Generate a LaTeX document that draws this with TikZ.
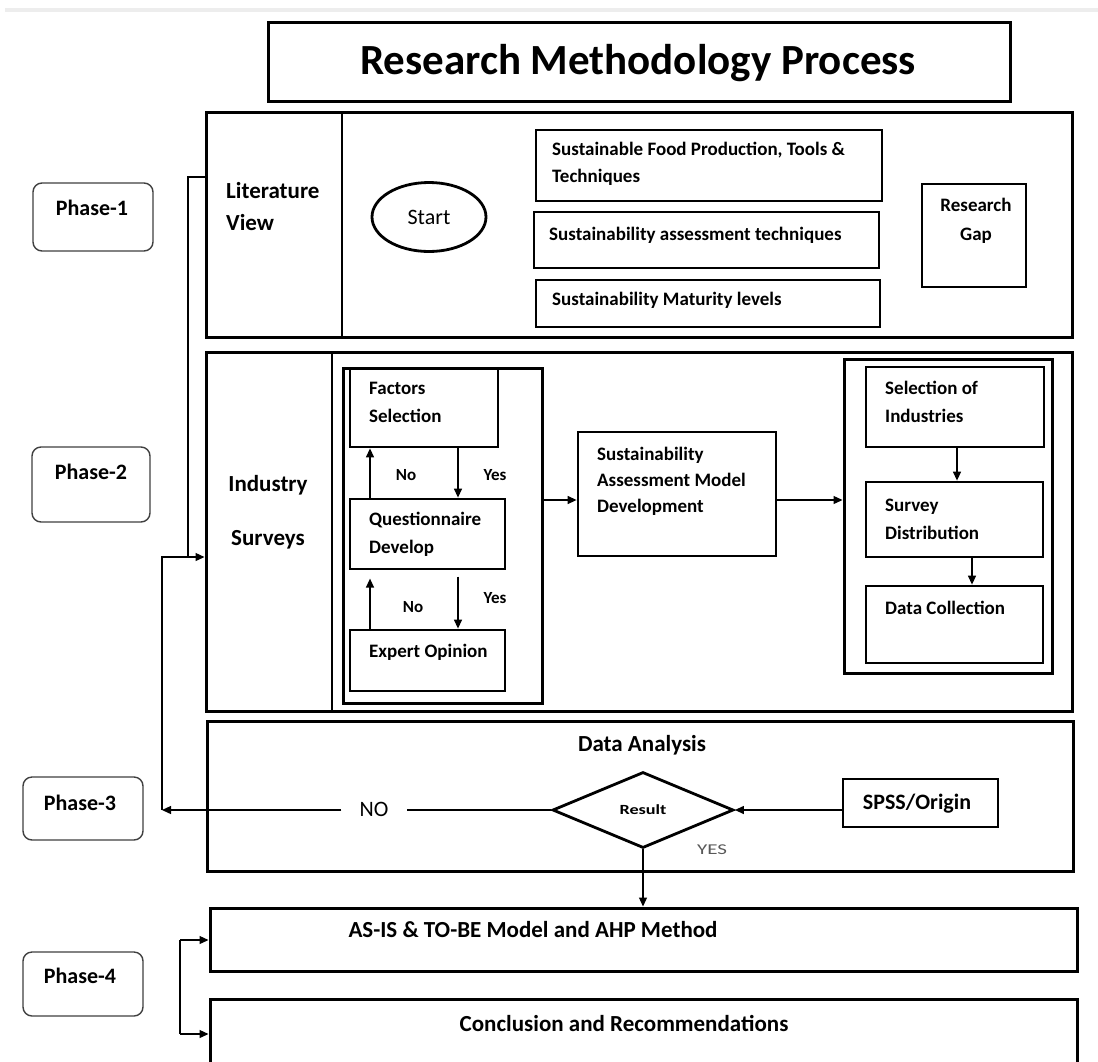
\documentclass[tikz,border=0pt]{standalone}
\usepackage{fontspec}
\setmainfont{Carlito}
\usetikzlibrary{arrows.meta,shapes.geometric,fit}
\begin{document}
\begin{tikzpicture}[x=1pt,y=-1pt,
 tb/.style={draw, line width=2.8pt, inner sep=0pt},
 ob/.style={draw, line width=3pt, inner sep=0pt},
 phase/.style={draw=black!75, line width=1.4pt, rounded corners=9pt, inner sep=0pt},
 lbl/.style={inner sep=0pt, anchor=west, align=left, font=\fontsize{19}{27}\selectfont\bfseries},
 big/.style={inner sep=0pt, font=\fontsize{23}{32}\selectfont\bfseries},
 phtxt/.style={inner sep=0pt, font=\fontsize{22}{26}\selectfont\bfseries},
 yn/.style={inner sep=0pt, font=\fontsize{17}{20}\selectfont\bfseries},
 arr/.style={-{Triangle[length=9pt,width=8pt]}, line width=1.3pt},
 ln/.style={line width=1.3pt}]
\clip (0,0) rectangle (1098,1061);
\fill[white] (0,0) rectangle (1098,1061);
\draw[black!7, line width=4pt] (5,10) -- (1098,10);

% title
\node[ob, fit={(268,22)(1010,101)}] (title) {};
\node[inner sep=0pt, font=\fontsize{43}{50}\selectfont\bfseries] (titleT) at (638,63) {Research Methodology Process};

% phase labels
\node[phase, fit={(33,183)(153,251)}] (p1) {};
\node[phtxt] (p1T) at (92,208) {Phase-1};
\node[phase, fit={(32,447)(150,522)}] (p2) {};
\node[phtxt] (p2T) at (91,472) {Phase-2};
\node[phase, fit={(23,777)(143,840)}] (p3) {};
\node[phtxt] (p3T) at (80,803) {Phase-3};
\node[phase, fit={(23,952)(143,1016)}] (p4) {};
\node[phtxt] (p4T) at (80,976) {Phase-4};

% Phase 1 block
\node[ob, fit={(206,112)(1072,337)}] (ph1) {};
\draw[line width=2.5pt] (342,112) -- (342,337);
\node[big, anchor=west, align=left] (litT) at (226,207) {Literature\\View};
\node[draw, ellipse, line width=2.8pt, minimum width=114pt, minimum height=69pt, inner sep=0pt, font=\fontsize{22}{26}\selectfont] (start) at (429,217) {Start};
\node[tb, fit={(536,130)(882,201)}] (lv1) {};
\node[lbl] (lv1T) at (552,164) {Sustainable Food Production, Tools \&\\Techniques};
\node[tb, fit={(534,212)(879,268)}] (lv2) {};
\node[lbl] (lv2T) at (549,235) {Sustainability assessment techniques};
\node[tb, fit={(536,280)(880,327)}] (lv3) {};
\node[lbl] (lv3T) at (552,300) {Sustainability Maturity levels};
\node[tb, fit={(922,184)(1026,287)}] (gap) {};
\node[lbl, anchor=center, align=center, font=\fontsize{19}{29}\selectfont\bfseries] (gapT) at (976,221) {Research\\Gap};

% Phase 2 block
\node[ob, fit={(206,352)(1072,711)}] (ph2) {};
\draw[line width=1.5pt] (332,352) -- (332,711);
\node[big, align=center, font=\fontsize{23}{54}\selectfont\bfseries] (indT) at (268,512) {Industry\\Surveys};
\node[ob, fit={(343,368)(542,703)}] (cl) {};
\node[tb, fit={(350,369)(498,447)}] (fs) {};
\node[lbl, font=\fontsize{19}{28}\selectfont\bfseries] (fsT) at (369,402) {Factors\\Selection};
\node[tb, fit={(350,499)(505,569)}] (qd) {};
\node[lbl, font=\fontsize{19}{28}\selectfont\bfseries] (qdT) at (369,534) {Questionnaire\\Develop};
\node[tb, fit={(350,630)(505,691)}] (eo) {};
\node[lbl] (eoT) at (369,652) {Expert Opinion};
\coordinate (x370) at (370,0);
\coordinate (x458) at (458,0);
\draw[arr] (qd.north -| x370) -- (fs.south -| x370);
\draw[arr] (fs.south -| x458) -- (qd.north -| x458);
\draw[arr] (eo.north -| x370) -- ++(0,-50);
\draw[arr] (eo.north -| x458) ++(0,-52) -- (eo.north -| x458);
\node[yn] (no1) at (406,475) {No};
\node[yn] (yes1) at (495,475) {Yes};
\node[yn] (no2) at (413,607) {No};
\node[yn] (yes2) at (495,598) {Yes};

\node[tb, fit={(578,432)(776,556)}] (samd) {};
\node[lbl, font=\fontsize{19}{26}\selectfont\bfseries] (samdT) at (597,481) {Sustainability\\Assessment Model\\Development};
\coordinate (y500) at (0,500);
\draw[arr] (cl.east |- y500) -- (samd.west |- y500);
\node[ob, fit={(844,359)(1052,673)}] (rc) {};
\draw[arr] (samd.east |- y500) -- (rc.west |- y500);
\node[tb, fit={(866,367)(1044,447)}] (si) {};
\node[lbl, font=\fontsize{19}{28}\selectfont\bfseries] (siT) at (885,402) {Selection of\\Industries};
\node[tb, fit={(866,482)(1043,557)}] (sd) {};
\node[lbl, font=\fontsize{19}{28}\selectfont\bfseries] (sdT) at (885,519) {Survey\\Distribution};
\node[tb, fit={(866,586)(1043,663)}] (dc) {};
\node[lbl] (dcT) at (885,608) {Data Collection};
\coordinate (x957) at (957,0);
\coordinate (x972) at (972,0);
\draw[arr] (si.south -| x957) -- (sd.north -| x957);
\draw[arr] (sd.south -| x972) -- (dc.north -| x972);

% Phase 3 block
\node[ob, fit={(207,721)(1073,871)}] (ph3) {};
\node[big] (daT) at (642,745) {Data Analysis};
\node[diamond, draw, line width=2.8pt, minimum width=181pt, minimum height=76pt, inner sep=0pt, font=\fontsize{14}{16}\selectfont\bfseries] (res) at (643,810) {\scalebox{1.3}[1]{Result}};
\node[tb, fit={(843,779)(998,827)}] (spss) {};
\node[inner sep=0pt, font=\fontsize{22}{26}\selectfont\bfseries] (spssT) at (917,804) {SPSS/Origin};
\draw[arr] (spss.west |- res.east) -- (res.east);
\node[inner ysep=2pt, inner xsep=18pt, font=\fontsize{22}{26}\selectfont] (noT) at (374,809) {NO};
\draw[ln] (res.west) -- (noT.east |- res.west);
\coordinate (lp) at (162,810);
\draw[arr] (noT.west |- res.west) -- (lp);
\coordinate (y557) at (0,557);
\draw[arr] (lp) |- (ph2.west |- y557);
\coordinate (y177) at (0,177);
\coordinate (c188) at (188,557);
\draw[ln] (ph1.west |- y177) -| (c188);
\node[inner sep=0pt, font=\fontsize{15}{18}\selectfont, text=black!65] (yesT) at (712,850) {\scalebox{1.4}[1]{YES}};

% Phase 4 block
\node[ob, fit={(210,908)(1077,971)}] (asis) {};
\node[big] (asisT) at (533,930) {AS-IS \& TO-BE Model and AHP Method};
\node[ob, fit={(210,999)(1077,1090)}] (concl) {};
\node[big] (conclT) at (624,1023) {Conclusion and Recommendations};
\draw[arr] (res.south) -- (asis.north -| res.south);
\coordinate (b4t) at (180,940);
\coordinate (b4b) at (180,1034);
\draw[ln] (b4t) -- (b4b);
\draw[arr] (b4t) -- (asis.west |- b4t);
\draw[arr] (b4b) -- (concl.west |- b4b);
\end{tikzpicture}
\end{document}
